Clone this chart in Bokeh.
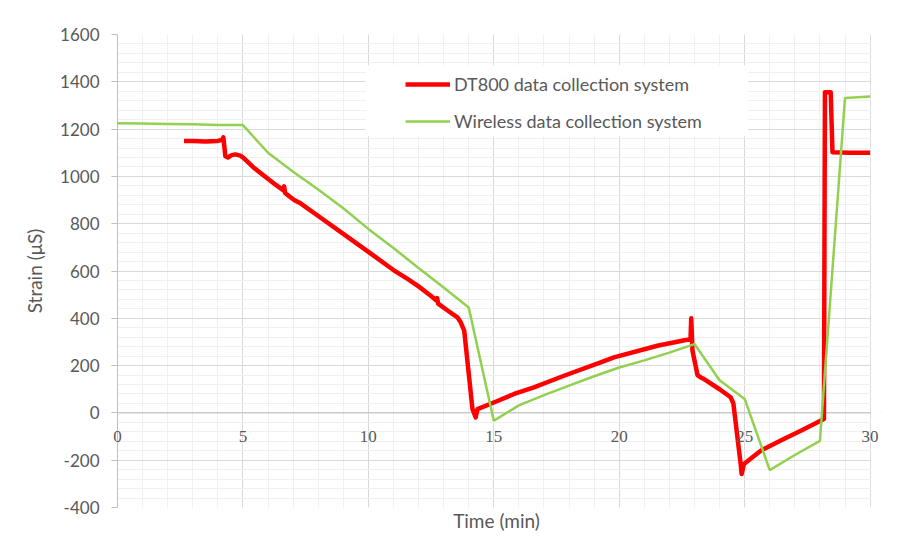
from bokeh.plotting import figure
from bokeh.models import (Range1d, SingleIntervalTicker, FixedTicker, Span, PrintfTickFormatter,
                          Legend, LegendItem, BoxAnnotation, LabelSet, ColumnDataSource)
from bokeh.embed import file_html
from bokeh.resources import INLINE

# ---- data ----
dt800_time = [2.65, 3.0, 3.5, 4.0, 4.18, 4.22, 4.3, 4.4, 4.55, 4.7, 4.9, 5.0, 5.4, 5.84,
              6.3, 6.6, 6.64, 6.68, 7.04, 7.31, 8.1, 9.0, 10.03, 11.0, 11.56, 12.0, 12.5,
              12.7, 12.74, 12.78, 13.2, 13.55, 13.68, 13.82, 14.15, 14.28, 14.35, 15.0,
              15.81, 16.6, 17.8, 19.26, 19.79, 21.52, 22.65, 22.84, 22.87, 22.92, 23.12,
              23.25, 23.38, 24.0, 24.44, 24.55, 24.84, 24.88, 24.97, 25.64, 26.5, 27.3,
              28.16, 28.2, 28.43, 28.5, 29.2, 30.0]
dt800_strain = [1150, 1150, 1148, 1150, 1155, 1165, 1085, 1080, 1090, 1093, 1088, 1080, 1040, 1003,
                965, 942, 958, 930, 900, 885, 825, 757, 679, 604, 567, 535, 494,
                476, 486, 462, 430, 404, 383, 348, 16, -19, 16, 44,
                80, 108, 157, 214, 235, 284, 308, 310, 400, 263, 160,
                150, 143, 100, 66, 40, -216, -258, -216, -160, -114, -72,
                -26, 1356, 1356, 1102, 1100, 1100]

wireless_time = [0, 1, 2, 3, 4, 5, 6, 7, 8, 9, 10, 11, 12, 13, 14, 15, 16, 17, 18, 19, 20,
                 21, 22, 23, 24, 25, 26, 27, 28, 29, 30]
wireless_strain = [1225, 1224, 1222, 1220, 1217, 1217, 1100, 1020, 945, 865, 778, 697, 613, 530,
                   446, -33, 32, 75, 115, 155, 192, 222, 255, 291, 138, 59, -242, -178, -118,
                   1332, 1338]

x_tick_values = [0, 5, 10, 15, 20, 25, 30]
x_tick_labels = ["0", "5", "10", "15", "20", "25", "30"]

series_labels = ["DT800 data collection system", "Wireless data collection system"]
x_label = "Time (min)"
y_label = "Strain (\u03bcS)"

X_MIN, X_MAX = 0, 30
Y_MIN, Y_MAX = -400, 1600

FONT = "Lato"
TXT = "#595959"
AXIS_GREY = "#bfbfbf"

# plot-area geometry (pixels): data area 752.6 px wide, plus small strips at the sides
# that leave room for the end tick labels ("0", "30")
W, H = 906, 537
LEFT, RIGHT, TOP, BOTTOM = 111, 25, 34, 30
PX_PER_MIN = 752.6 / (X_MAX - X_MIN)
left_strip = 6 / PX_PER_MIN
right_strip = (W - LEFT - RIGHT - 6 - 752.6) / PX_PER_MIN

p = figure(width=W, height=H,
           x_range=Range1d(X_MIN - left_strip, X_MAX + right_strip),
           y_range=Range1d(Y_MIN, Y_MAX),
           output_backend="svg", toolbar_location=None,
           min_border_left=LEFT, min_border_right=RIGHT, min_border_top=TOP,
           min_border_bottom=BOTTOM,
           background_fill_color="white", border_fill_color="white")
p.outline_line_color = None

xt = SingleIntervalTicker(interval=5, num_minor_ticks=5)
yt = SingleIntervalTicker(interval=200, num_minor_ticks=5)
p.xgrid.ticker = xt
p.yaxis.ticker = yt
p.ygrid.ticker = yt

for g in (p.xgrid, p.ygrid):
    g.grid_line_color = "#d9d9d9"
    g.grid_line_width = 1
    g.minor_grid_line_color = "#f0f0f0"
    g.minor_grid_line_width = 1

# bottom axis only carries the title
xa = p.xaxis[0]
xa.ticker = FixedTicker(ticks=[])
xa.axis_line_color = None
xa.major_tick_line_color = None
xa.minor_tick_line_color = None
xa.major_tick_out = 0
xa.minor_tick_out = 0
xa.major_label_text_font_size = "0px"
xa.axis_label = x_label
xa.axis_label_standoff = 1
xa.axis_label_text_font = FONT
xa.axis_label_text_font_size = "19px"
xa.axis_label_text_font_style = "normal"
xa.axis_label_text_color = TXT

ya = p.yaxis[0]
ya.formatter = PrintfTickFormatter(format="%d")
ya.axis_line_color = None
ya.major_tick_line_color = AXIS_GREY
ya.major_tick_out = 0
ya.major_tick_in = 6
ya.minor_tick_line_color = None
ya.minor_tick_out = 0
ya.minor_tick_in = 0
ya.major_label_standoff = 12
ya.major_label_text_font = FONT
ya.major_label_text_font_size = "17px"
ya.major_label_text_color = TXT
ya.axis_label = y_label
ya.axis_label_text_font = FONT
ya.axis_label_text_font_size = "19px"
ya.axis_label_text_font_style = "normal"
ya.axis_label_text_color = TXT
ya.axis_label_standoff = 11

# horizontal axis line at y = 0, then white strips outside [0, 30], then vertical axis line
p.add_layout(Span(location=0, dimension="width", line_color=AXIS_GREY, line_width=1,
                  level="underlay"))
p.add_layout(BoxAnnotation(left=X_MAX + 0.03, fill_color="white", fill_alpha=1,
                           line_color=None, level="underlay"))
p.add_layout(BoxAnnotation(right=X_MIN, fill_color="white", fill_alpha=1,
                           line_color=None, level="underlay"))
p.add_layout(Span(location=X_MIN, dimension="height", line_color=AXIS_GREY, line_width=1,
                  level="underlay"))

# x tick labels just below the zero line
xlab_src = ColumnDataSource(dict(x=x_tick_values, y=[0] * len(x_tick_values), text=x_tick_labels))
p.add_layout(LabelSet(x="x", y="y", text="text", source=xlab_src, y_offset=-18,
                      text_align="center", text_baseline="top", text_font=FONT,
                      text_font_size="17px", text_color=TXT))

r1 = p.line(dt800_time, dt800_strain, line_color="#ff0000", line_width=4.5, line_join="round")
r2 = p.line(wireless_time, wireless_strain, line_color="#92d050", line_width=2.5)

# white legend panel
p.add_layout(BoxAnnotation(left=9.9, right=25.15, bottom=1170, top=1470,
                           fill_color="white", fill_alpha=1, line_color=None))

legend = Legend(items=[LegendItem(label=series_labels[0], renderers=[r1]),
                       LegendItem(label=series_labels[1], renderers=[r2])],
                location=(294, 375), padding=0, margin=0, spacing=15,
                glyph_width=45, glyph_height=22, label_height=22, label_standoff=4,
                label_text_font=FONT, label_text_font_size="18px", label_text_color=TXT,
                border_line_color=None, background_fill_alpha=0)
p.add_layout(legend)

open("out.html", "w").write(file_html(p, INLINE))
